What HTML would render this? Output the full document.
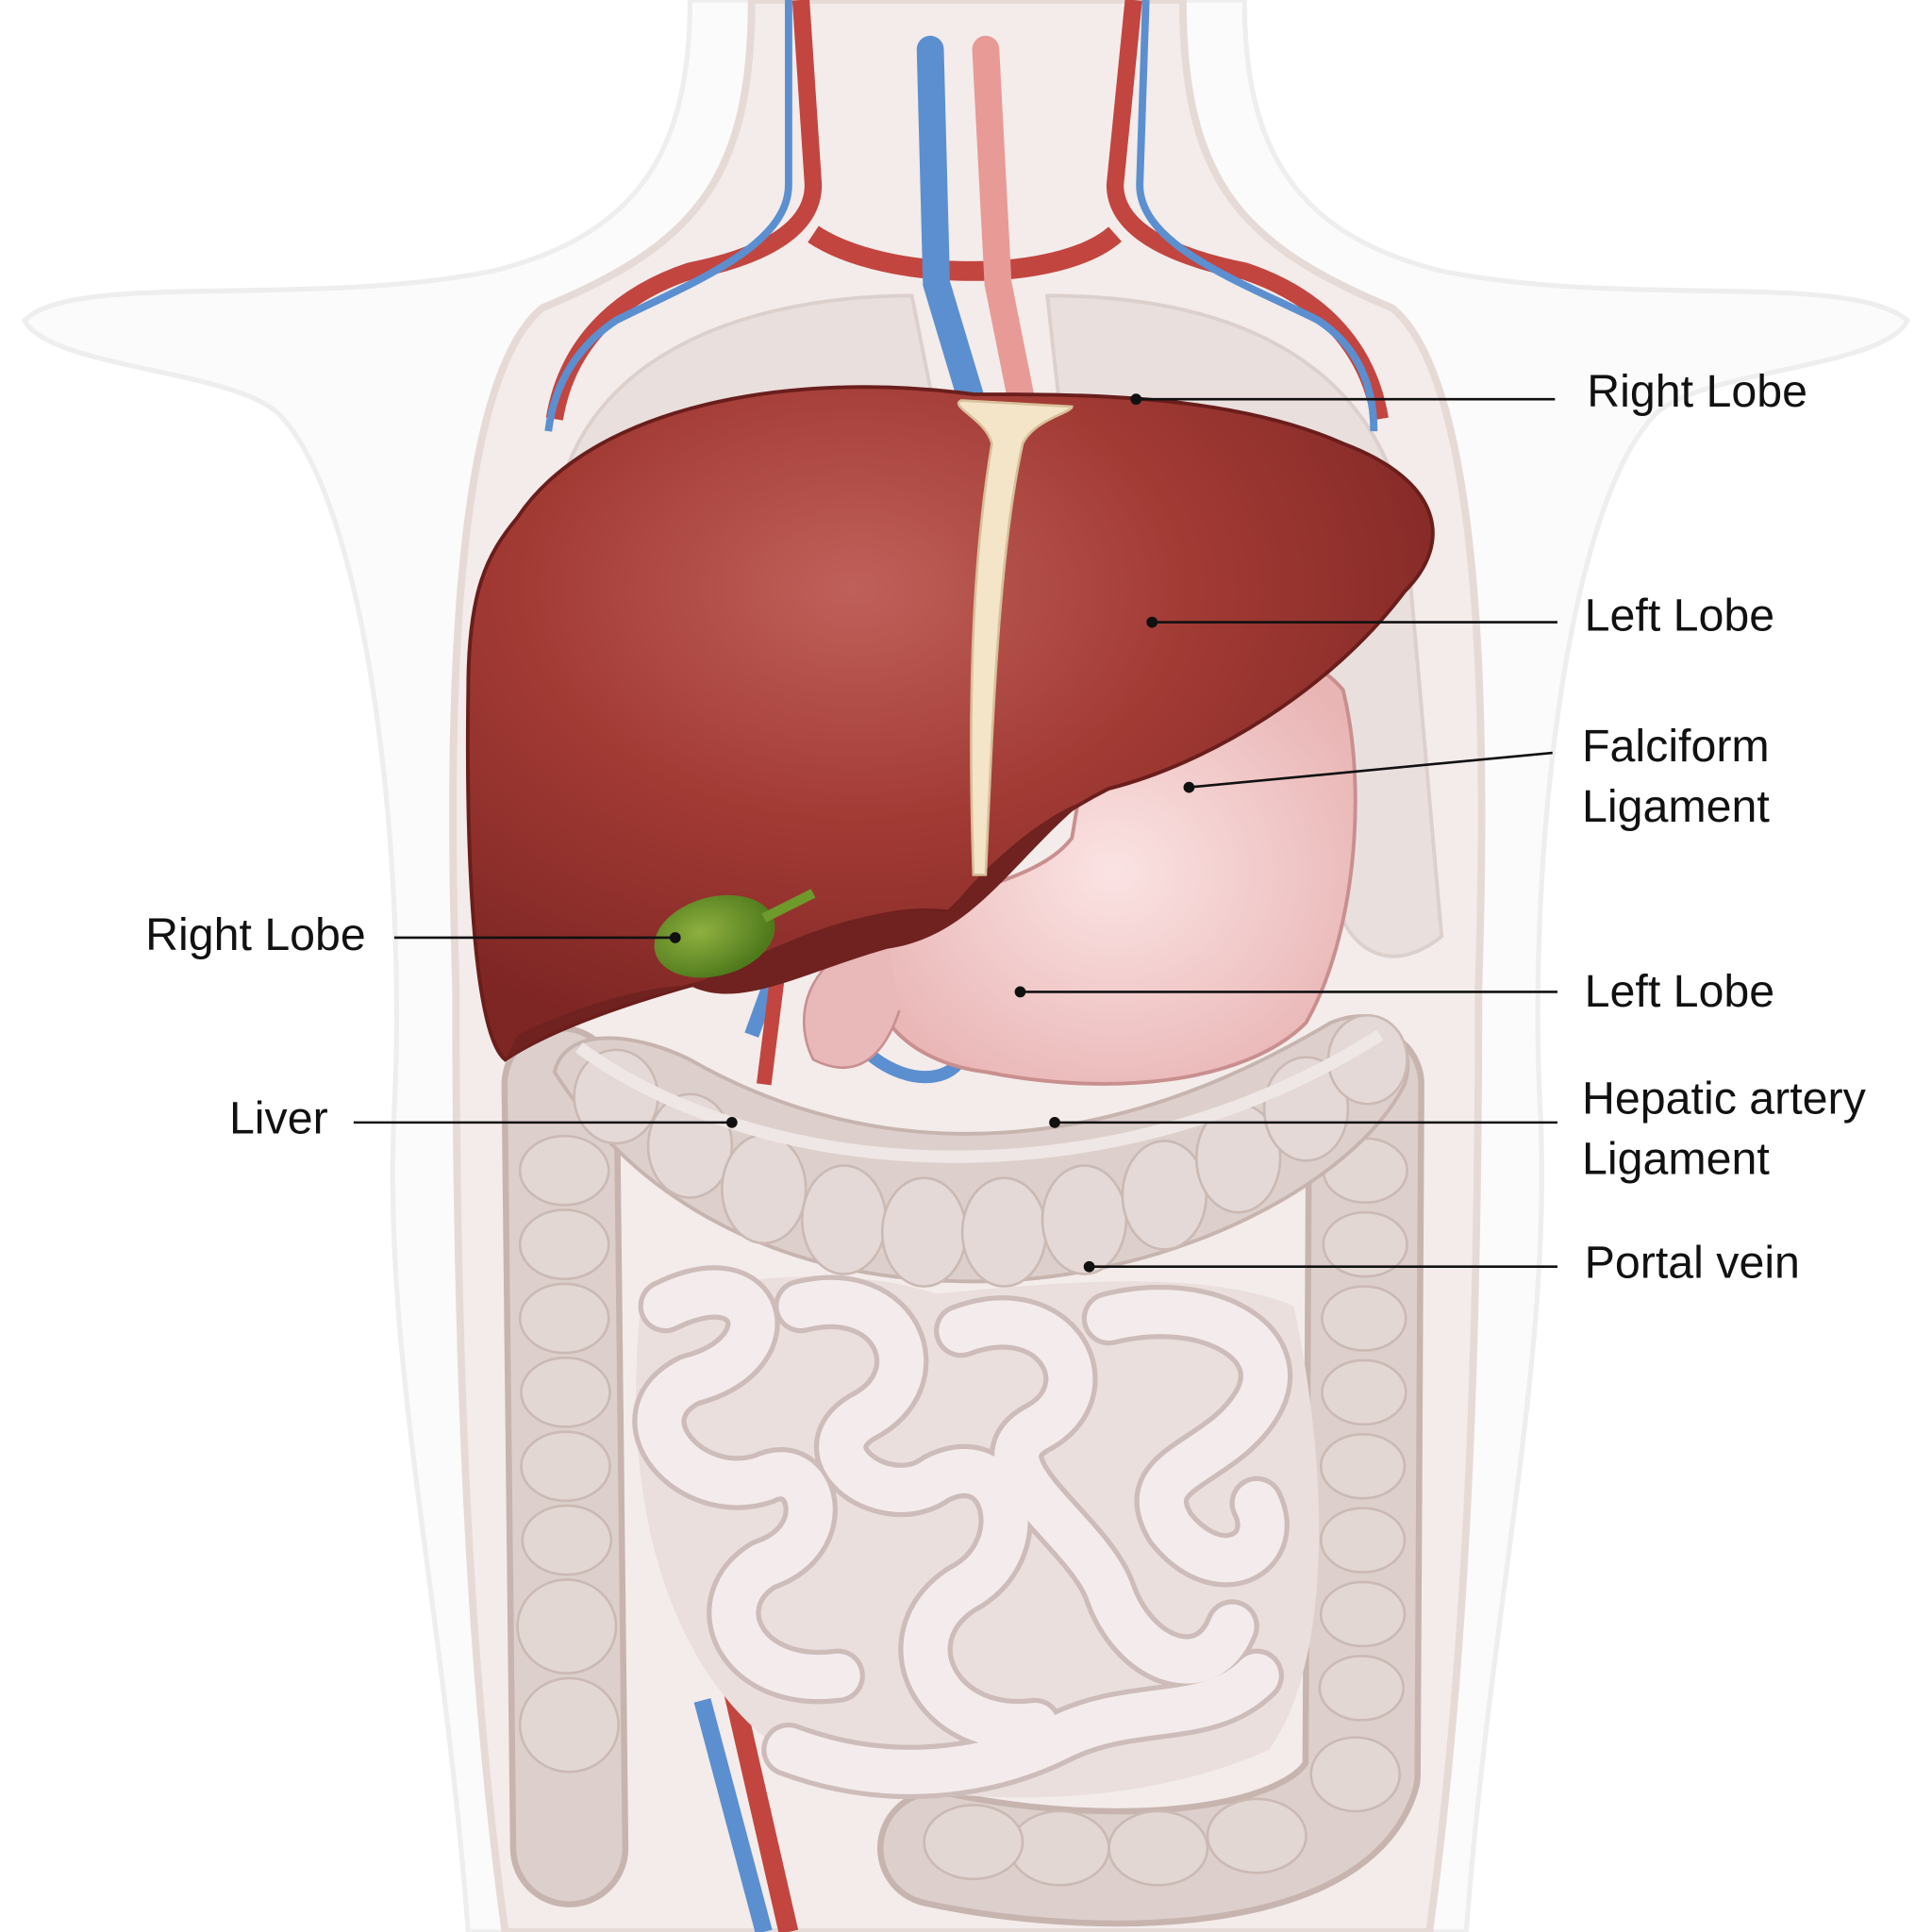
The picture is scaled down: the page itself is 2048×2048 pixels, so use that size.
<!DOCTYPE html>
<html><head><meta charset="utf-8"><style>
html,body{margin:0;padding:0;background:#fff;}
svg{display:block;}
text{font-family:"Liberation Sans",sans-serif;font-size:37px;fill:#111;}
</style></head><body>
<svg width="2048" height="2048" viewBox="0 0 1568 1568" xmlns="http://www.w3.org/2000/svg">
<defs>
<radialGradient id="lv" cx="0.4" cy="0.3" r="0.7"><stop offset="0" stop-color="#c0605a"/><stop offset="0.5" stop-color="#a23a34"/><stop offset="1" stop-color="#7e2624"/></radialGradient>
<radialGradient id="st" cx="0.5" cy="0.5" r="0.6"><stop offset="0" stop-color="#fbe3e3"/><stop offset="1" stop-color="#e9b4b4"/></radialGradient>
<radialGradient id="gb" cx="0.4" cy="0.4" r="0.6"><stop offset="0" stop-color="#8fb040"/><stop offset="1" stop-color="#4f7a1c"/></radialGradient>
</defs>
<rect width="1568" height="1568" fill="#fff"/>
<path d="M560 0 C560 120 520 190 400 220 C250 250 60 220 20 260 C40 300 200 300 230 340 C300 420 330 700 320 900 C310 1100 360 1300 380 1568 L1190 1568 C1210 1300 1260 1100 1250 900 C1240 700 1270 420 1340 340 C1370 300 1530 300 1548 260 C1500 220 1320 250 1170 220 C1050 190 1010 120 1010 0 Z" fill="#fbfbfb" stroke="#eeeeee" stroke-width="4"/>
<path d="M610 0 C610 150 560 200 440 250 C380 300 360 500 370 800 C370 1100 380 1350 410 1568 L1160 1568 C1190 1350 1200 1100 1200 800 C1210 500 1190 300 1130 250 C1010 200 960 150 960 0 Z" fill="#f3ecea" stroke="#e6dad7" stroke-width="6"/>
<path d="M740 240 C620 240 470 280 450 420 L760 340 Z" fill="#e9e0de" stroke="#dcd0cd" stroke-width="3"/>
<path d="M850 240 C980 240 1110 280 1140 420 L1170 760 C1120 800 1080 760 1080 700 L860 330 Z" fill="#e9e0de" stroke="#dcd0cd" stroke-width="3"/>
<path d="M650 0 L660 150 C660 190 610 210 560 220 C500 240 460 280 450 340" fill="none" stroke="#c24540" stroke-width="14"/>
<path d="M920 0 L905 150 C905 190 960 210 1010 220 C1070 240 1110 280 1120 340" fill="none" stroke="#c24540" stroke-width="14"/>
<path d="M640 0 L640 150 C640 200 560 230 500 260 C470 280 450 310 445 350" fill="none" stroke="#5b8fd0" stroke-width="6"/>
<path d="M930 0 L925 150 C925 200 1010 230 1070 260 C1100 280 1115 310 1115 350" fill="none" stroke="#5b8fd0" stroke-width="6"/>
<path d="M660 190 C720 230 860 230 905 190" fill="none" stroke="#c24540" stroke-width="16"/>
<path d="M755 40 L760 230 L790 330" fill="none" stroke="#5b8fd0" stroke-width="22" stroke-linecap="round"/>
<path d="M800 40 L810 230 L830 330" fill="none" stroke="#e89a96" stroke-width="22" stroke-linecap="round"/>
<path d="M650 730 L610 840" stroke="#5b8fd0" stroke-width="12"/>
<path d="M640 720 L620 880" stroke="#c24540" stroke-width="12"/>
<path d="M680 820 C700 870 760 890 780 860" fill="none" stroke="#5b8fd0" stroke-width="10"/>
<path d="M570 1380 L620 1568" stroke="#5b8fd0" stroke-width="14"/>
<path d="M590 1350 L640 1568" stroke="#c24540" stroke-width="16"/>
<!-- ascending / descending / sigmoid colon -->
<g fill="none" stroke-linecap="round" stroke-linejoin="round">
<path d="M462 1500 L455 880 M1108 880 L1105 1440 C1080 1520 900 1530 760 1500" stroke="#c7b4af" stroke-width="96"/>
<path d="M462 1500 L455 880 M1108 880 L1105 1440 C1080 1520 900 1530 760 1500" stroke="#ddd0cc" stroke-width="86"/>
</g>
<g fill="#e3d7d4" stroke="#cbb9b4" stroke-width="2">
<ellipse cx="458" cy="950" rx="36" ry="28"/><ellipse cx="458" cy="1010" rx="36" ry="28"/><ellipse cx="458" cy="1070" rx="36" ry="28"/><ellipse cx="459" cy="1130" rx="36" ry="28"/><ellipse cx="459" cy="1190" rx="36" ry="28"/><ellipse cx="460" cy="1250" rx="36" ry="28"/><ellipse cx="460" cy="1320" rx="40" ry="38"/><ellipse cx="462" cy="1400" rx="40" ry="38"/>
<ellipse cx="1108" cy="950" rx="34" ry="26"/><ellipse cx="1108" cy="1010" rx="34" ry="26"/><ellipse cx="1107" cy="1070" rx="34" ry="26"/><ellipse cx="1107" cy="1130" rx="34" ry="26"/><ellipse cx="1106" cy="1190" rx="34" ry="26"/><ellipse cx="1106" cy="1250" rx="34" ry="26"/><ellipse cx="1106" cy="1310" rx="34" ry="26"/><ellipse cx="1105" cy="1370" rx="34" ry="26"/><ellipse cx="1100" cy="1440" rx="36" ry="30"/>
<ellipse cx="1020" cy="1490" rx="40" ry="30"/><ellipse cx="940" cy="1500" rx="40" ry="30"/><ellipse cx="860" cy="1500" rx="40" ry="30"/><ellipse cx="790" cy="1495" rx="40" ry="30"/>
</g>
<!-- transverse colon -->
<path d="M450 870 C460 830 520 840 560 860 C700 940 880 950 1080 830 C1130 810 1150 850 1140 880 C1100 960 950 1040 790 1040 C640 1040 520 980 450 870 Z" fill="#ddd0cc" stroke="#c7b4af" stroke-width="3"/>
<g fill="#e4d9d6" stroke="#cbb9b4" stroke-width="2">
<ellipse cx="500" cy="890" rx="34" ry="38"/><ellipse cx="560" cy="930" rx="34" ry="42"/><ellipse cx="620" cy="965" rx="34" ry="44"/><ellipse cx="685" cy="990" rx="34" ry="44"/><ellipse cx="750" cy="1000" rx="34" ry="44"/><ellipse cx="815" cy="1000" rx="34" ry="44"/><ellipse cx="880" cy="990" rx="34" ry="44"/><ellipse cx="945" cy="970" rx="34" ry="44"/><ellipse cx="1005" cy="940" rx="34" ry="44"/><ellipse cx="1060" cy="900" rx="34" ry="42"/><ellipse cx="1110" cy="860" rx="32" ry="36"/>
</g>
<path d="M470 850 C620 960 900 980 1120 840" fill="none" stroke="#efe7e5" stroke-width="10"/>
<!-- small intestine -->
<path d="M520 1060 C600 1030 700 1030 760 1050 C860 1040 980 1030 1050 1060 C1080 1200 1080 1350 1030 1420 C920 1470 760 1470 650 1430 C560 1380 500 1250 520 1060 Z" fill="#eadfdd"/>
<g fill="none" stroke-linecap="round" stroke-linejoin="round">
<g stroke="#cdbcb9" stroke-width="44">
<path d="M540 1060 C620 1020 640 1100 560 1120 C500 1150 560 1220 620 1200 C660 1180 680 1250 620 1270 C570 1300 600 1370 680 1360"/>
<path d="M650 1060 C730 1040 760 1120 700 1150 C650 1180 720 1230 760 1200 C820 1170 840 1260 780 1290 C720 1330 760 1410 840 1400"/>
<path d="M780 1080 C860 1050 900 1130 840 1160 C790 1190 880 1240 900 1290 C920 1350 980 1370 1000 1320"/>
<path d="M900 1070 C980 1050 1050 1090 1020 1140 C990 1190 920 1190 950 1240 C990 1290 1040 1260 1020 1220"/>
<path d="M640 1420 C720 1450 800 1440 860 1410 C920 1380 980 1400 1020 1360"/>
</g>
<g stroke="#f4ecec" stroke-width="36">
<path d="M540 1060 C620 1020 640 1100 560 1120 C500 1150 560 1220 620 1200 C660 1180 680 1250 620 1270 C570 1300 600 1370 680 1360"/>
<path d="M650 1060 C730 1040 760 1120 700 1150 C650 1180 720 1230 760 1200 C820 1170 840 1260 780 1290 C720 1330 760 1410 840 1400"/>
<path d="M780 1080 C860 1050 900 1130 840 1160 C790 1190 880 1240 900 1290 C920 1350 980 1370 1000 1320"/>
<path d="M900 1070 C980 1050 1050 1090 1020 1140 C990 1190 920 1190 950 1240 C990 1290 1040 1260 1020 1220"/>
<path d="M640 1420 C720 1450 800 1440 860 1410 C920 1380 980 1400 1020 1360"/>
</g>
</g>
<!-- stomach -->
<path d="M880 620 C960 560 1040 500 1090 560 C1110 640 1100 760 1060 830 C1010 880 900 890 800 870 C720 860 690 800 720 760 C760 720 840 720 870 680 Z" fill="url(#st)" stroke="#c98f8f" stroke-width="3"/>
<path d="M720 760 C660 770 640 820 660 860 C700 880 720 850 730 820" fill="#e9b8b8" stroke="#c98f8f" stroke-width="2"/>
<!-- liver -->
<path d="M420 420 C480 330 640 300 790 320 C880 320 1000 320 1090 360 C1170 390 1180 440 1140 480 C1080 560 980 620 900 640 C840 670 800 710 770 740 C690 730 610 790 560 800 C490 820 440 840 410 860 C385 840 378 700 380 560 C380 480 395 450 420 420 Z" fill="url(#lv)" stroke="#6a1e1c" stroke-width="3"/>
<path d="M560 800 C610 780 690 730 770 740 C800 700 850 660 880 650 C820 700 790 760 720 770 C650 790 600 820 560 800 Z" fill="#6f2220"/>
<path d="M410 860 C450 830 520 810 560 800 C520 800 460 820 420 840 Z" fill="#6f2220"/>
<path d="M780 325 C770 330 800 340 805 360 C790 450 785 560 790 710 L800 710 C805 600 810 450 830 360 C840 340 870 335 870 330 Z" fill="#f4e4c8" stroke="#d8c09a" stroke-width="2"/>
<ellipse cx="580" cy="760" rx="50" ry="32" fill="url(#gb)" transform="rotate(-15 580 760)"/>
<path d="M620 745 L660 725" stroke="#6e9a2c" stroke-width="8"/>
<g stroke="#111" stroke-width="2" fill="#111">
<line x1="922" y1="324" x2="1262" y2="324"/><circle cx="922" cy="324" r="3.5"/>
<line x1="935" y1="505" x2="1264" y2="505"/><circle cx="935" cy="505" r="3.5"/>
<line x1="965" y1="639" x2="1260" y2="611"/><circle cx="965" cy="639" r="3.5"/>
<line x1="320" y1="761" x2="548" y2="761"/><circle cx="548" cy="761" r="3.5"/>
<line x1="828" y1="805" x2="1264" y2="805"/><circle cx="828" cy="805" r="3.5"/>
<line x1="287" y1="911" x2="594" y2="911"/><circle cx="594" cy="911" r="3.5"/>
<line x1="856" y1="911" x2="1264" y2="911"/><circle cx="856" cy="911" r="3.5"/>
<line x1="884" y1="1028" x2="1264" y2="1028"/><circle cx="884" cy="1028" r="3.5"/>
</g>
<text x="1288" y="330">Right Lobe</text>
<text x="1286" y="512">Left Lobe</text>
<text x="1284" y="618">Falciform</text>
<text x="1284" y="667">Ligament</text>
<text x="118" y="771">Right Lobe</text>
<text x="1286" y="817">Left Lobe</text>
<text x="186" y="920">Liver</text>
<text x="1284" y="904">Hepatic artery</text>
<text x="1284" y="953">Ligament</text>
<text x="1286" y="1037">Portal vein</text>
</svg>
</body></html>
